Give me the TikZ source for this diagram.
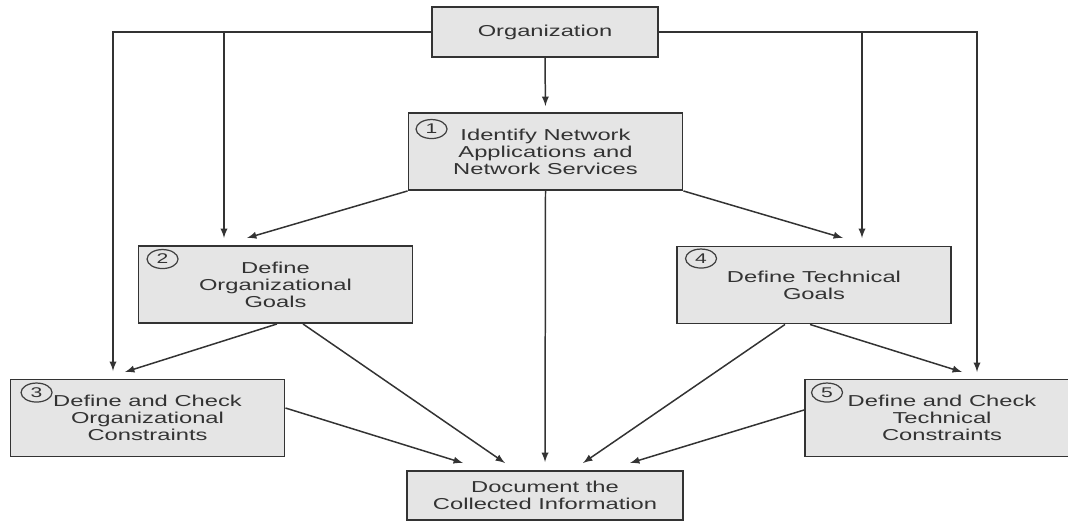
\documentclass[tikz,border=0pt]{standalone}
\usepackage{fontspec}
\setmainfont{Liberation Sans}[FakeStretch=1.5]
\usepackage{tikz}
\usetikzlibrary{arrows,shapes.geometric}

\tikzset{
  stepbox/.style={draw=black!80, fill=black!10, line width=1.1pt, minimum width=5.48cm, minimum height=1.54cm, align=center, text=black!80, font=\fontsize{9}{9.6}\selectfont},
  badge/.style={draw=black!75, ellipse, line width=0.7pt, minimum width=0.62cm, minimum height=0.38cm, inner sep=0pt, text=black!80, font=\fontsize{8}{8}\selectfont},
  flow/.style={->, >=latex, draw=black!80, line width=0.85pt}
}

\begin{document}
\begin{tikzpicture}[x=0.02cm, y=-0.02cm]
  \useasboundingbox (0,0) rectangle (1068,521);
  \clip (0,0) rectangle (1068,521);
  \node [stepbox, minimum width=4.52cm, minimum height=1cm] (org) at (545,32) {Organization};
  \node [stepbox] (apps) at (545.5,151.5) {Identify Network\\Applications and\\Network Services};
  \node [stepbox] (orggoal) at (275.5,284.5) {Define\\Organizational\\Goals};
  \node [stepbox] (techgoal) at (814,285) {Define Technical\\Goals};
  \node [stepbox] (orgcons) at (147.5,418) {Define and Check\\Organizational\\Constraints};
  \node [stepbox] (techcons) at (942,418) {Define and Check\\Technical\\Constraints};
  \node [stepbox, minimum width=5.52cm, minimum height=0.98cm] (docinfo) at (545,495.5) {Document the\\Collected Information};
  \node [badge] (n1) at ([xshift=0.48cm,yshift=-0.34cm]apps.north west) {1};
  \node [badge] (n2) at ([xshift=0.5cm,yshift=-0.28cm]orggoal.north west) {2};
  \node [badge] (n3) at ([xshift=0.54cm,yshift=-0.28cm]orgcons.north west) {3};
  \node [badge] (n4) at ([xshift=0.5cm,yshift=-0.26cm]techgoal.north west) {4};
  \node [badge] (n5) at ([xshift=0.46cm,yshift=-0.28cm]techcons.north west) {5};
  \coordinate (t3l) at (113,371);
  \coordinate (t2l) at (224,238);
  \coordinate (t2d) at (247,238);
  \coordinate (t4d) at (843,238);
  \coordinate (t4r) at (862,238);
  \coordinate (t5r) at (977,372);
  \coordinate (t5d) at (962,372);
  \coordinate (t3d) at (125,372);
  \coordinate (t6a) at (463,463);
  \coordinate (t6b) at (505,463);
  \coordinate (t6d) at (583,463);
  \coordinate (t6e) at (630,463);
  \draw [flow] (org.west) -| (t3l);
  \draw [flow] (t2l |- org.west) -- (t2l);
  \draw [flow] (org.east) -| (t5r);
  \draw [flow] (t4r |- org.east) -- (t4r);
  \draw [flow, shorten >=0.12cm] (org.south) -- (apps.north);
  \draw [flow] (apps.south west) -- (t2d);
  \draw [flow] (apps.south east) -- (t4d);
  \draw [flow, shorten >=0.16cm] (apps.south) -- (docinfo.north);
  \draw [flow] ([xshift=0.03cm]orggoal.south) -- (t3d);
  \draw [flow] ([xshift=0.55cm]orggoal.south) -- (t6b);
  \draw [flow] ([yshift=0.2cm]orgcons.east) -- (t6a);
  \draw [flow] ([xshift=-0.58cm]techgoal.south) -- (t6d);
  \draw [flow] ([xshift=-0.08cm]techgoal.south) -- (t5d);
  \draw [flow] ([yshift=0.16cm]techcons.west) -- (t6e);
\end{tikzpicture}
\end{document}
